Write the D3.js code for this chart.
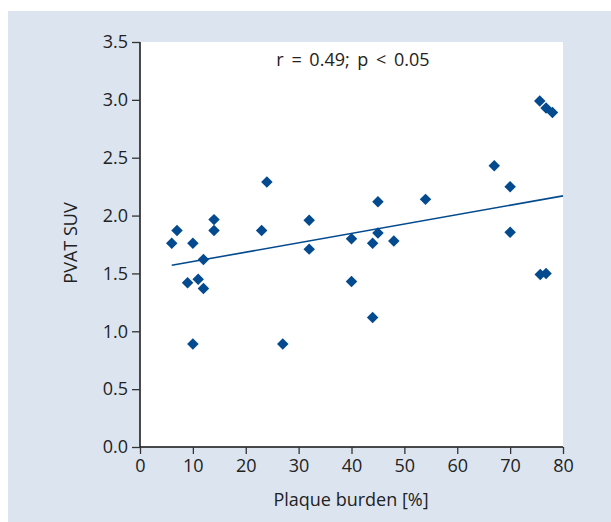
<!DOCTYPE html>
<html>
<head>
<meta charset="utf-8">
<script src="https://cdn.jsdelivr.net/npm/d3@7"></script>
<style>
  body { margin: 0; background: #fff; }
  svg text { font-family: "Open Sans", "Noto Sans", sans-serif; fill: #222; }
</style>
</head>
<body>
<script>
// plaque burden (%) and PVAT SUV
var burden = [6, 7, 9, 10, 10, 11, 12, 12, 14, 14,
              23, 24, 27, 32, 32, 40, 40, 44, 44, 45,
              45, 48, 54, 67, 70, 70, 75.6, 76.8, 78, 75.7, 76.8];
var suv = [1.76, 1.87, 1.42, 1.76, 0.89, 1.45, 1.37, 1.62, 1.965, 1.87,
           1.87, 2.29, 0.89, 1.96, 1.71, 1.80, 1.43, 1.76, 1.12, 2.12,
           1.85, 1.78, 2.14, 2.43, 2.25, 1.855, 2.99, 2.93, 2.89, 1.49, 1.50];

// regression line ends
var fitX = [6, 80];
var fitY = [1.57, 2.17];

var xTicks = [0, 10, 20, 30, 40, 50, 60, 70, 80];
var yTicks = [0, 0.5, 1, 1.5, 2, 2.5, 3, 3.5];

var W = 611, H = 522;
var margin = {top: 42, right: 48, bottom: 75, left: 140};
var width = 563 - margin.left,
    height = 447 - margin.top;

var blue = "#034a8e";

var svg = d3.select("body").append("svg")
    .attr("width", W)
    .attr("height", H);

// light blue frame
svg.append("rect")
    .attr("x", 8).attr("y", 11)
    .attr("width", W - 8).attr("height", H - 11)
    .attr("fill", "#dce5ef");

var g = svg.append("g")
    .attr("transform", "translate(" + margin.left + "," + margin.top + ")");

var x = d3.scaleLinear().domain([0, 80]).range([0, width]);
var y = d3.scaleLinear().domain([0, 3.5]).range([height, 0]);

// white plot area
g.append("rect")
    .attr("width", width)
    .attr("height", height)
    .attr("fill", "#fff");

var xAxis = d3.axisBottom(x)
    .tickValues(xTicks)
    .tickFormat(d3.format("d"))
    .tickSize(7)
    .tickPadding(5);

var yAxis = d3.axisLeft(y)
    .tickValues(yTicks)
    .tickFormat(d3.format(".1f"))
    .tickSize(8)
    .tickPadding(4);

var gx = g.append("g")
    .attr("transform", "translate(0," + height + ")")
    .call(xAxis);

var gy = g.append("g")
    .call(yAxis);

[gx, gy].forEach(function(a) {
  a.select(".domain").attr("stroke", "#111").attr("stroke-width", 1.5);
  a.selectAll(".tick line").attr("stroke", "#333").attr("stroke-width", 1.3);
  a.selectAll(".tick text")
      .style("font-size", "18px")
      .attr("fill", "#222");
});
// drop the outer end tick stubs so the domain is a plain line
gx.select(".domain").attr("d", "M0,0H" + width);
gy.select(".domain").attr("d", "M0," + height + "V0");

// regression line
g.append("line")
    .attr("x1", x(fitX[0])).attr("y1", y(fitY[0]))
    .attr("x2", x(fitX[1])).attr("y2", y(fitY[1]))
    .attr("stroke", blue)
    .attr("stroke-width", 1.6);

// diamonds
var pts = burden.map(function(b, i) { return [b, suv[i]]; });
var diamond = d3.symbol().type(d3.symbolSquare).size(66);

g.selectAll(".pt")
    .data(pts)
    .enter().append("path")
    .attr("class", "pt")
    .attr("d", diamond)
    .attr("transform", function(d) {
      return "translate(" + x(d[0]) + "," + y(d[1]) + ") rotate(45)";
    })
    .attr("fill", blue);

// annotation
g.append("text")
    .attr("x", 213)
    .attr("y", 24)
    .attr("text-anchor", "middle")
    .style("font-size", "18px")
    .style("word-spacing", "3px")
    .text("r = 0.49; p < 0.05");

// axis titles
svg.append("text")
    .attr("x", 351)
    .attr("y", 506)
    .attr("text-anchor", "middle")
    .style("font-size", "18px")
    .text("Plaque burden [%]");

svg.append("text")
    .attr("transform", "translate(77,243) rotate(-90)")
    .attr("text-anchor", "middle")
    .style("font-size", "18px")
    .text("PVAT SUV");
</script>
</body>
</html>
